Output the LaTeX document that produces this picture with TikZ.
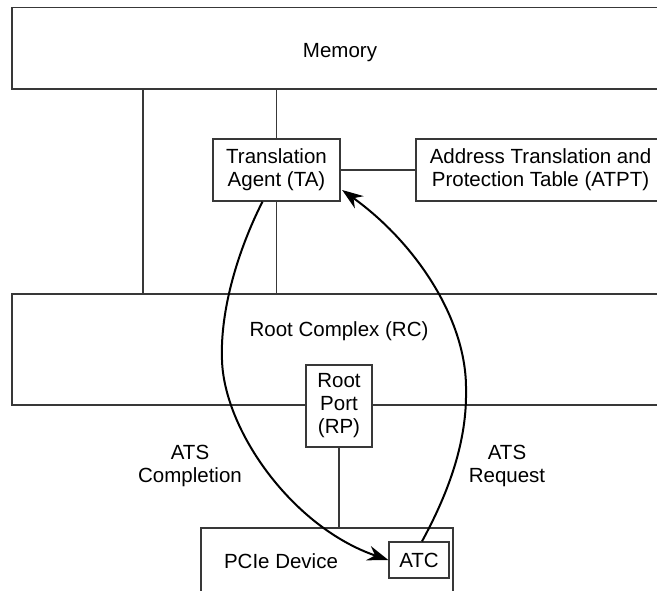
\documentclass[tikz,border=0pt]{standalone}
\usepackage{fontspec}
\setmainfont{Liberation Sans}
\usetikzlibrary{arrows.meta}
\newcommand\diagfont{\fontsize{20.5}{23}\selectfont}
\begin{document}
\begin{tikzpicture}[x=1pt,y=-1pt,
  box/.style={draw=black!78, line width=1.3pt, fill=white, inner sep=0pt,
              align=center, font=\diagfont},
  txt/.style={inner sep=0pt, align=center, font=\diagfont},
  link/.style={draw=black!78, line width=1.3pt},
  flow/.style={draw=black, line width=2pt,
               -{Stealth[length=21pt,width=15pt,inset=7pt]}}]
\clip (0,0) rectangle (657,590);
\useasboundingbox (0,0) rectangle (657,590);

% large blocks (their right edges run past the page)
\node[box, minimum width=656pt, minimum height=81.5pt] (mem) at (340,48.25) {};
\node[txt] (memlbl) at (340,53) {Memory};
\node[box, minimum width=654pt, minimum height=111pt] (rc) at (339,349.5) {};
\node[txt] (rclbl) at (339,331) {Root Complex (RC)};

% translation agent and its table
\node[box, minimum width=127pt, minimum height=62pt] (ta) at (276.5,170)
  {Translation\\Agent (TA)};
\node[box, minimum width=249pt, minimum height=62pt] (atpt) at (540.5,170)
  {Address Translation and\\Protection Table (ATPT)};

% device side
\node[box, minimum width=252pt, minimum height=100pt] (pcie) at (327,578) {};
\node[txt] (pcielbl) at (281,561) {PCIe Device};
\node[box, minimum width=60pt, minimum height=36pt] (atc) at (419,560) {ATC};

% wiring
\draw[link] (143,0 |- mem.south) -- (143,0 |- rc.north);
\draw[link] (ta.north) -- (ta.north |- mem.south);
\draw[link] (ta.south) -- (ta.south |- rc.north);
\draw[link] (ta.east) -- (atpt.west);

\node[box, minimum width=66pt, minimum height=82pt] (rp) at (339,406)
  {Root\\Port\\(RP)};
\draw[link] (rp.south) -- (rp.south |- pcie.north);

% ATS transactions
\draw[flow] ([xshift=-14pt]ta.south)
  .. controls (238,250) and (220,310) .. (222,360)
  .. controls (224,430) and (292,527) .. (atc.west);
\draw[flow] ([xshift=3pt]atc.north)
  .. controls (450,490) and (467,440) .. (466,390)
  .. controls (467,320) and (416,243) .. ([xshift=1.5pt,yshift=-20pt]ta.east);

\node[txt] (cpl) at (190,466) {ATS\\Completion};
\node[txt] (req) at (507,466) {ATS\\Request};
\end{tikzpicture}
\end{document}
